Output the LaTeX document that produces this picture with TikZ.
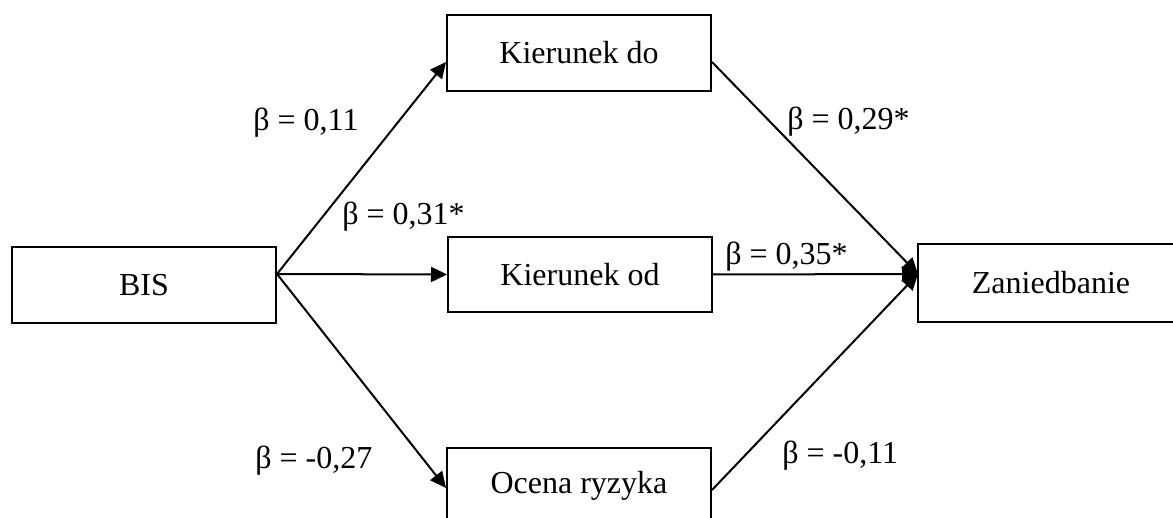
\documentclass[tikz,border=0pt]{standalone}
\usepackage{fontspec}
\setmainfont{Liberation Serif}
\usetikzlibrary{arrows.meta}
\begin{document}
\begin{tikzpicture}[x=0.5pt,y=-0.5pt,
  box/.style={draw=black,line width=1pt,fill=white,minimum width=132pt,minimum height=38pt,inner sep=0pt,font=\fontsize{16}{19}\selectfont},
  conn/.style={line width=1pt,-{Triangle[length=8pt,width=7.5pt]}},
  lab/.style={inner sep=0pt,anchor=base west,font=\fontsize{16}{19}\selectfont}]
\useasboundingbox (0,0) rectangle (1173,518);
\begin{scope}
\clip (0,0) rectangle (1173,518);
\node[box] (bis) at (144,285) {BIS};
\node[box] (kdo) at (579,53) {Kierunek do};
\node[box,minimum height=37.5pt] (kod) at (580,274.5) {Kierunek od};
\node[box] (ocena) at (579,486) {Ocena ryzyka};
\node[box,draw=none,fill=none] (zan) at (1051,283) {Zaniedbanie};
\draw[line width=1pt] ([xshift=10pt]zan.north east) -- (zan.north west) -- (zan.south west) -- ([xshift=10pt]zan.south east);
\coordinate (src) at ([yshift=5.5pt]bis.east);
\coordinate (dst) at ([yshift=4.5pt]zan.west);
\draw[conn] (src) -- ([yshift=-4.5pt]kdo.west);
\draw[conn] (src) -- (kod.west);
\draw[conn] (src) -- ([yshift=-1pt]ocena.west);
\draw[conn] ([yshift=-4.5pt]kdo.east) -- (dst);
\draw[conn] (kod.east) -- (dst);
\draw[conn] ([yshift=-2pt]ocena.east) -- (dst);
\node[lab] (l1) at (253,131) {β = 0,11};
\node[lab] (l2) at (342,225) {β = 0,31*};
\node[lab] (l3) at (255,468) {β = -0,27};
\node[lab] (l4) at (787,130) {β = 0,29*};
\node[lab] (l5) at (725,265) {β = 0,35*};
\node[lab] (l6) at (782,463) {β = -0,11};
\end{scope}
\end{tikzpicture}
\end{document}
